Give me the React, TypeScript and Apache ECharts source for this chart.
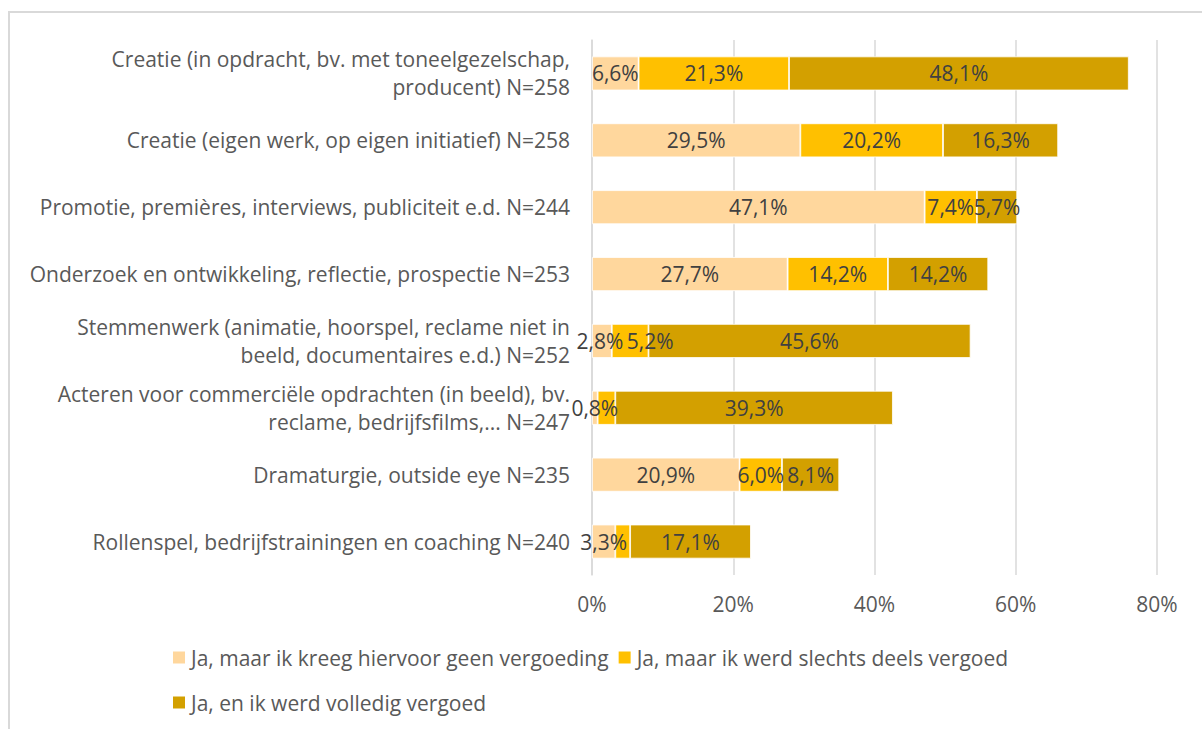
import React, { useEffect, useRef } from "react";
import * as echarts from "echarts";

const categories = [
  "Creatie (in opdracht, bv. met toneelgezelschap,\nproducent) N=258",
  "Creatie (eigen werk, op eigen initiatief) N=258",
  "Promotie, premières, interviews, publiciteit e.d. N=244",
  "Onderzoek en ontwikkeling, reflectie, prospectie N=253",
  "Stemmenwerk (animatie, hoorspel, reclame niet in\nbeeld, documentaires e.d.) N=252",
  "Acteren voor commerciële opdrachten (in beeld), bv.\nreclame, bedrijfsfilms,... N=247",
  "Dramaturgie, outside eye N=235",
  "Rollenspel, bedrijfstrainingen en coaching N=240",
];
const seriesNames = [
  "Ja, maar ik kreeg hiervoor geen vergoeding",
  "Ja, maar ik werd slechts deels vergoed",
  "Ja, en ik werd volledig vergoed",
];
const geenVergoeding = [6.6, 29.5, 47.1, 27.7, 2.8, 0.8, 20.9, 3.3];
const deelsVergoed = [21.3, 20.2, 7.4, 14.2, 5.2, 2.5, 6.0, 2.1];
const volledigVergoed = [48.1, 16.3, 5.7, 14.2, 45.6, 39.3, 8.1, 17.1];
// labels hidden in the original for these (series index, category index)
const hiddenLabels = [
  [1, 5],
  [1, 7],
];
const colors = ["#FFD79D", "#FFC000", "#D3A000"];

const FONT = "Open Sans";
const FS = 21;

export default function App() {
  const ref = useRef<HTMLDivElement>(null);
  useEffect(() => {
    if (!ref.current) return;
    const chart = echarts.init(ref.current, null, { renderer: "svg" });
    const all = [geenVergoeding, deelsVergoed, volledigVergoed];
    const series = all.map((vals, si) => ({
      name: seriesNames[si],
      type: "bar",
      stack: "total",
      barWidth: 34,
      itemStyle: { color: colors[si], borderColor: "#ffffff", borderWidth: 0.8 },
      label: {
        show: true,
        position: "inside",
        color: "#404040",
        fontFamily: FONT,
        fontSize: FS,
        formatter: (p: any) => p.value.toFixed(1).replace(".", ",") + "%",
      },
      data: vals.map((v, ci) => {
        const hide = hiddenLabels.some((h) => h[0] === si && h[1] === ci);
        if (hide) return { value: v, label: { show: false } };
        // small neighbouring segment labels nudged apart, as in the original
        if (si === 1 && ci === 4) return { value: v, label: { offset: [20, 0] } };
        if (si === 0 && ci === 4) return { value: v, label: { offset: [-2, 0] } };
        return { value: v };
      }),
    }));
    const legendText = { color: "#595959", fontFamily: FONT, fontSize: FS };
    chart.setOption({
      animation: false,
      color: colors,
      graphic: [
        {
          type: "rect",
          shape: { x: 9, y: 12, width: 1300, height: 800 },
          style: { fill: "none", stroke: "#d9d9d9", lineWidth: 2 },
        },
      ],
      grid: { left: 592, right: 45, top: 40, bottom: 154, containLabel: false },
      xAxis: {
        type: "value",
        min: 0,
        max: 80,
        interval: 20,
        axisLabel: {
          formatter: "{value}%",
          color: "#595959",
          fontFamily: FONT,
          fontSize: FS,
          margin: 18,
        },
        splitLine: { lineStyle: { color: "#d9d9d9", width: 1.5 } },
        axisLine: { show: false },
        axisTick: { show: false },
      },
      yAxis: {
        type: "category",
        inverse: true,
        data: categories,
        axisLabel: {
          color: "#595959",
          fontFamily: FONT,
          fontSize: FS,
          margin: 22,
          lineHeight: 28,
          align: "right",
        },
        axisLine: { show: true, lineStyle: { color: "#d9d9d9", width: 1.5 } },
        axisTick: { show: false },
      },
      legend: [
        {
          data: [seriesNames[0], seriesNames[1]],
          left: 171,
          top: 647,
          padding: 0,
          itemWidth: 14,
          itemHeight: 14,
          itemGap: 8,
          icon: "rect",
          textStyle: legendText,
        },
        {
          data: [seriesNames[2]],
          left: 171,
          top: 692,
          padding: 0,
          itemWidth: 14,
          itemHeight: 14,
          icon: "rect",
          textStyle: legendText,
        },
      ],
      series,
    });
    return () => chart.dispose();
  }, []);
  return (
    <div
      ref={ref}
      style={{ position: "fixed", left: 0, top: 0, width: 1202, height: 729, background: "#fff" }}
    />
  );
}
